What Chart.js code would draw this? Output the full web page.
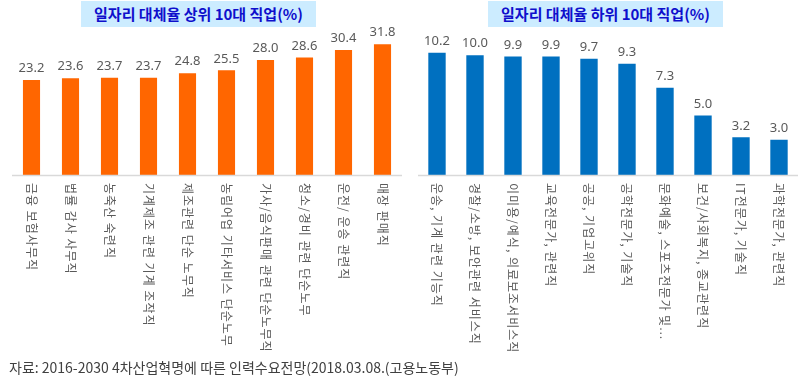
<!DOCTYPE html>
<html>
<head>
<meta charset="utf-8">
<script src="https://cdn.jsdelivr.net/npm/chart.js@4"></script>
<style>
  body { margin: 0; width: 800px; height: 388px; background: #fff; position: relative; overflow: hidden;
         font-family: "Noto Sans CJK KR", "Noto Sans", sans-serif; }
  .box { position: absolute; top: 1px; height: 26px; line-height: 26px; background: #CCECFF;
         color: #0F0FCC; font-weight: bold; font-size: 15px; text-align: center; }
  #wrap1 { position: absolute; left: 0; top: 0; width: 405px; height: 388px; }
  #wrap2 { position: absolute; left: 405px; top: 0; width: 395px; height: 388px; }
  #src { position: absolute; left: 9px; top: 357px; font-size: 14px; color: #404040; }
</style>
</head>
<body>
<div id="wrap1"><canvas id="chart1"></canvas></div>
<div id="wrap2"><canvas id="chart2"></canvas></div>
<div class="box" style="left:81px;width:235px">일자리 대체율 상위 10대 직업(%)</div>
<div class="box" style="left:488px;width:235px">일자리 대체율 하위 10대 직업(%)</div>
<div id="src">자료: 2016-2030 4차산업혁명에 따른 인력수요전망(2018.03.08.(고용노동부)</div>
<script>
// 상위 10대 직업
const topJobs = ['금융 보험사무직', '법률 감사 사무직', '농축산 숙련직', '기계제조 관련 기계 조작직', '제조관련 단순 노무직',
    '농림어업 기타서비스 단순노무', '가사/음식판매 관련 단순노무직', '청소/경비 관련 단순노무', '운전/ 운송 관련직', '매장 판매직']
const topRates = [23.2, 23.6, 23.7, 23.7, 24.8, 25.5, 28.0, 28.6, 30.4, 31.8]

// 하위 10대 직업
const lowJobs = ['운송, 기계 관련 기능직', '경찰/소방, 보안관련 서비스직', '이미용/예식, 의료보조서비스직', '교육전문가, 관련직',
    '공공, 기업고위직', '공학전문가, 기술직', '문화예술, 스포츠전문가 및...', '보건/사회복지, 종교관련직', 'IT전문가, 기술직', '과학전문가, 관련직']
const lowRates = [10.2, 10.0, 9.9, 9.9, 9.7, 9.3, 7.3, 5.0, 3.2, 3.0]

// 값 라벨 + 세로(시계방향) 카테고리 라벨 + 바닥선
const labelPlugin = {
    id: 'labels',
    afterDatasetsDraw(chart) {
        const ctx = chart.ctx
        const area = chart.chartArea
        const xs = chart.scales.x
        ctx.save()
        ctx.strokeStyle = '#D9D9D9'
        ctx.lineWidth = 1.5
        ctx.beginPath()
        ctx.moveTo(area.left, area.bottom + 0.5)
        ctx.lineTo(area.right, area.bottom + 0.5)
        ctx.stroke()

        const meta = chart.getDatasetMeta(0)
        ctx.fillStyle = '#595959'
        ctx.font = '13px "Noto Sans", sans-serif'
        ctx.textAlign = 'center'
        ctx.textBaseline = 'bottom'
        meta.data.forEach((bar, i) => {
            ctx.fillText(chart.data.datasets[0].data[i].toFixed(1), bar.x, bar.y - 4)
        })

        ctx.font = '12px "Noto Sans CJK KR", sans-serif'
        ctx.letterSpacing = '1px'
        ctx.textAlign = 'left'
        ctx.textBaseline = 'middle'
        chart.data.labels.forEach((lab, i) => {
            ctx.save()
            ctx.translate(xs.getPixelForValue(i), area.bottom + 8)
            ctx.rotate(Math.PI / 2)
            ctx.fillText(lab, 0, 0)
            ctx.restore()
        })
        ctx.restore()
    }
}

function makeChart(id, labels, values, color, maxY, barPct, padL, padR) {
    return new Chart(document.getElementById(id), {
        type: 'bar',
        data: {
            labels: labels,
            datasets: [{
                data: values,
                backgroundColor: color,
                borderColor: 'rgba(255,255,255,0.35)',
                borderWidth: 1,
                categoryPercentage: 1,
                barPercentage: barPct
            }]
        },
        options: {
            responsive: true,
            maintainAspectRatio: false,
            animation: false,
            layout: { padding: { top: 30, bottom: 213, left: padL, right: padR } },
            plugins: { legend: { display: false }, tooltip: { enabled: false } },
            scales: {
                x: { display: false },
                y: { display: false, min: 0, max: maxY }
            }
        },
        plugins: [labelPlugin]
    })
}

makeChart('chart1', topJobs, topRates, '#FF6600', 35, 0.49, 12, 3)
makeChart('chart2', lowJobs, lowRates, '#0070C0', 12, 0.51, 13, 2)
</script>
</body>
</html>
